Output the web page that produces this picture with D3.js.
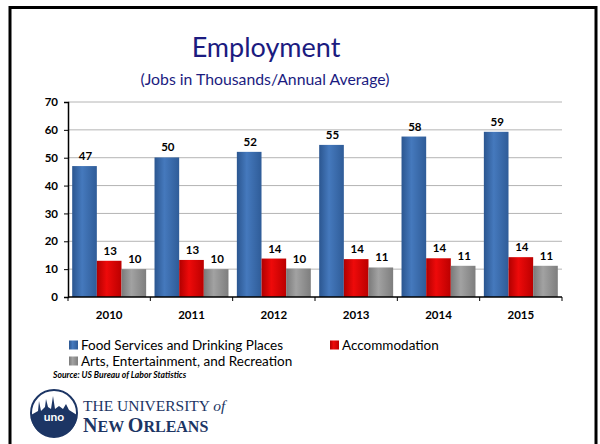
<!DOCTYPE html>
<html>
<head>
<meta charset="utf-8">
<script src="https://cdn.jsdelivr.net/npm/d3@7"></script>
<style>
  body { margin: 0; background: #fff; }
  svg { display: block; font-family: Lato, "Open Sans", sans-serif; }
</style>
</head>
<body>
<div id="chart"></div>
<script>
// datos
var years = ['2010', '2011', '2012', '2013', '2014', '2015']
var series = ['Food Services and Drinking Places', 'Accommodation', 'Arts, Entertainment, and Recreation']
var food = [47, 50.1, 52.1, 54.6, 57.6, 59.3]
var accommodation = [13.0, 13.3, 13.8, 13.6, 13.9, 14.3]
var arts = [10.0, 10.0, 10.2, 10.6, 11.2, 11.2]
var yTicks = [0, 10, 20, 30, 40, 50, 60, 70]

var w = 600, h = 444
var plotLeft = 68, plotRight = 562, plotTop = 102, plotBottom = 297

var svg = d3.select('#chart').append('svg')
    .attr('width', w)
    .attr('height', h)

// marco
svg.append('rect')
    .attr('x', 10).attr('y', 7.5)
    .attr('width', 586).attr('height', 450)
    .attr('fill', 'none').attr('stroke', '#000').attr('stroke-width', 3)

// gradientes de las barras
var colors = [['#2b5690', '#4579bd', '#2f5c98'], ['#b00000', '#ee0a0a', '#bb0000'], ['#7a7a7a', '#a2a2a2', '#7e7e7e']]
var defs = svg.append('defs')
colors.forEach((c, i) => {
    var g = defs.append('linearGradient').attr('id', 'g' + i)
        .attr('x1', 0).attr('x2', 1).attr('y1', 0).attr('y2', 0)
    g.append('stop').attr('offset', '0%').attr('stop-color', c[0])
    g.append('stop').attr('offset', '40%').attr('stop-color', c[1])
    g.append('stop').attr('offset', '100%').attr('stop-color', c[2])
})

// titulos
svg.append('text')
    .attr('x', 266).attr('y', 57)
    .attr('text-anchor', 'middle')
    .attr('font-size', 27)
    .attr('fill', '#1b1b80')
    .text('Employment')
svg.append('text')
    .attr('x', 265).attr('y', 85)
    .attr('text-anchor', 'middle')
    .attr('font-size', 15.8)
    .attr('fill', '#1b1b80')
    .text('(Jobs in Thousands/Annual Average)')

// escalas
var x0 = d3.scaleBand().domain(years).range([plotLeft, plotRight]).padding(0)
var x1 = d3.scaleBand().domain(d3.range(3)).range([0, x0.bandwidth()]).paddingInner(0).paddingOuter(0.17)
var y = d3.scaleLinear().domain([0, 70]).range([plotBottom, plotTop])

// rejilla
svg.append('g').selectAll('line')
    .data(yTicks.slice(1))
    .enter().append('line')
    .attr('x1', plotLeft).attr('x2', plotRight)
    .attr('y1', d => y(d)).attr('y2', d => y(d))
    .attr('stroke', '#b4b4b4').attr('stroke-width', 1)

// eje y
var yaxis = d3.axisLeft(y).tickValues(yTicks).tickSize(4).tickPadding(6)
var gy = svg.append('g').attr('transform', 'translate(' + plotLeft + ',0)').call(yaxis)
gy.select('.domain').attr('stroke-width', 1.5)
gy.selectAll('text').attr('font-size', 11.5).attr('font-weight', 'bold').attr('fill', '#000')
    .attr('font-family', 'Lato, sans-serif')

// barras
var table = years.map((yr, i) => ({ year: yr, values: [food[i], accommodation[i], arts[i]] }))
var groups = svg.append('g').selectAll('g')
    .data(table)
    .enter().append('g')
    .attr('transform', d => 'translate(' + x0(d.year) + ',0)')

groups.selectAll('rect')
    .data(d => d.values)
    .enter().append('rect')
    .attr('x', (d, i) => x1(i))
    .attr('y', d => y(d))
    .attr('width', x1.bandwidth())
    .attr('height', d => plotBottom - y(d))
    .attr('fill', (d, i) => 'url(#g' + i + ')')

groups.selectAll('text')
    .data(d => d.values)
    .enter().append('text')
    .attr('x', (d, i) => x1(i) + x1.bandwidth() / 2 + 1)
    .attr('y', d => y(d) - 6)
    .attr('text-anchor', 'middle')
    .attr('font-size', 11.5)
    .attr('font-weight', 'bold')
    .text(d => d3.format('.0f')(d))

// eje x
var gx = svg.append('g').attr('transform', 'translate(0,' + plotBottom + ')')
gx.append('line').attr('x1', plotLeft).attr('x2', plotRight).attr('stroke', '#000').attr('stroke-width', 1.5)
gx.selectAll('line.tick')
    .data(years.map(d => x0(d)).concat([plotRight]))
    .enter().append('line')
    .attr('class', 'tick')
    .attr('x1', d => d).attr('x2', d => d)
    .attr('y1', 0).attr('y2', 4)
    .attr('stroke', '#000')
gx.selectAll('text')
    .data(years)
    .enter().append('text')
    .attr('x', d => x0(d) + x0.bandwidth() / 2)
    .attr('y', 22)
    .attr('text-anchor', 'middle')
    .attr('font-size', 11.5)
    .attr('font-weight', 'bold')
    .text(d => d)

// leyenda
var legendPos = [[69, 345], [330, 345], [69, 361]]
var legend = svg.append('g').selectAll('g')
    .data(series)
    .enter().append('g')
    .attr('transform', (d, i) => 'translate(' + legendPos[i][0] + ',' + legendPos[i][1] + ')')
legend.append('rect')
    .attr('x', 0).attr('y', -4.5).attr('width', 9).attr('height', 9)
    .attr('fill', (d, i) => 'url(#g' + i + ')')
legend.append('text')
    .attr('x', 12).attr('y', 4.5)
    .attr('font-size', 13.5)
    .text(d => d)

svg.append('text')
    .attr('x', 53).attr('y', 378)
    .attr('font-size', 8.6)
    .attr('font-style', 'italic')
    .attr('font-weight', 'bold')
    .text('Source: US Bureau of Labor Statistics')

// logo
var logo = svg.append('g').attr('transform', 'translate(54,413)')
logo.append('circle').attr('r', 23).attr('fill', '#fff').attr('stroke', '#1c3564').attr('stroke-width', 2)
logo.append('path')
    .attr('d', 'M-23,2 L-16,-2 L-15,-12 L-13,-2 L-9,-6 L-8,-14 L-6,-6 L-3,-4 L-1,-17 L1,-4 L5,-7 L9,-4 L12,-9 L15,-3 L23,2 A23,23 0 0,1 -23,2 Z')
    .attr('fill', '#1c3564')
logo.append('text').attr('x', 0).attr('y', 8).attr('text-anchor', 'middle')
    .attr('font-size', 12).attr('font-weight', 'bold').attr('fill', '#fff').text('uno')
var serif = '"Liberation Serif", "DejaVu Serif", serif'
svg.append('text').attr('x', 83).attr('y', 411)
    .attr('font-family', serif).attr('font-size', 15.5).attr('fill', '#1c3564')
    .text('THE UNIVERSITY ')
    .append('tspan').attr('font-style', 'italic').text('of')
var no = svg.append('text').attr('x', 83).attr('y', 432)
    .attr('font-family', serif).attr('font-size', 20).attr('font-weight', 'bold').attr('fill', '#1c3564')
no.append('tspan').text('N')
no.append('tspan').attr('font-size', 16).text('EW ')
no.append('tspan').text('O')
no.append('tspan').attr('font-size', 16).text('RLEANS')
</script>
</body>
</html>
